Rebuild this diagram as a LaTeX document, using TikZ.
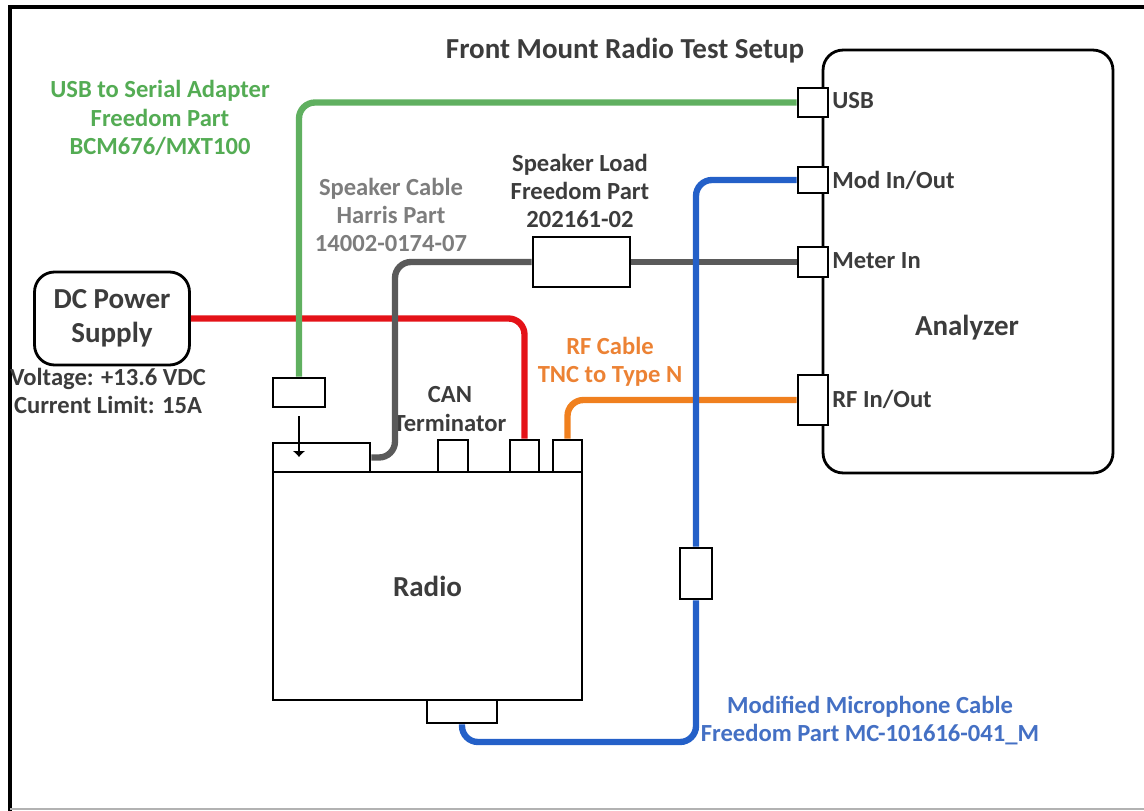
\documentclass[tikz,border=0pt]{standalone}
\usepackage{fontspec}
\setmainfont{Carlito}
\usetikzlibrary{arrows.meta,positioning}
\definecolor{TextGray}{RGB}{60,60,60}
\definecolor{UsbGreen}{RGB}{96,176,96}
\definecolor{UsbText}{RGB}{84,172,84}
\definecolor{PowerRed}{RGB}{228,18,24}
\definecolor{SpkGray}{RGB}{90,90,90}
\definecolor{SpkText}{RGB}{125,125,125}
\definecolor{RfOrange}{RGB}{240,128,30}
\definecolor{RfText}{RGB}{236,130,52}
\definecolor{MicBlue}{RGB}{36,96,200}
\definecolor{MicText}{RGB}{68,112,196}
\tikzset{
  box/.style={draw=black,line width=1.6pt,fill=white,inner sep=0pt,
    font=\bfseries\fontsize{16.5}{19.5}\selectfont,text=TextGray,align=center},
  port/.style={box,minimum width=0.6cm},
  cable/.style={line width=3.6pt,rounded corners=0.32cm},
  lbl/.style={font=\bfseries\fontsize{14}{16}\selectfont,align=center,
    text=TextGray,inner sep=0pt},
}
\begin{document}
\begin{tikzpicture}[x=0.02cm,y=-0.02cm,>=Latex]
  \useasboundingbox (0,0) rectangle (1144,811);
  % frame
  \draw[line width=2.4pt] (10,811) -- (10,7) -- (1144,7);
  \draw[gray!60,line width=0.6pt] (10,809) -- (1144,809);
  \node[lbl,font=\bfseries\fontsize{16.5}{19}\selectfont] (title) at (625,51) {Front Mount Radio Test Setup};

  % analyzer
  \node[box,rounded corners=0.4cm,minimum width=5.8cm,minimum height=8.46cm] (anz) at (968,261.5) {};
  \node[lbl,font=\bfseries\fontsize{16.5}{19}\selectfont] (anzname) at (967,328) {Analyzer};
  \node[port,minimum height=0.58cm] (usbport) at (813,102.5) {};
  \node[port,minimum height=0.52cm] (modport) at (813,180) {};
  \node[port,minimum height=0.6cm] (meterport) at (813,262) {};
  \node[port,minimum height=1.0cm] (rfport) at (813,400) {};
  \node[lbl,anchor=west] (usblbl) at (832,101) {USB};
  \node[lbl,anchor=west] (modlbl) at (832,180) {Mod In/Out};
  \node[lbl,anchor=west] (meterlbl) at (832,261) {Meter In};
  \node[lbl,anchor=west] (rflbl) at (832,399) {RF In/Out};

  % power supply
  \node[box,rounded corners=0.4cm,minimum width=3.1cm,minimum height=1.86cm] (psu) at (112,318.5) {DC Power\\Supply};
  \node[lbl] (psuspec) at (108,391) {Voltage: +13.6 VDC\\Current Limit: 15A};

  % radio
  \node[box,minimum width=6.18cm,minimum height=4.56cm] (radio) at (427.5,586) {Radio};
  \node[box,minimum width=1.94cm,minimum height=0.58cm] (radiotop) at (321.5,457.5) {};
  \node[port,minimum height=0.64cm] (canport) at (453,456) {};
  \node[port,minimum width=0.58cm,minimum height=0.64cm] (dcport) at (524.5,456) {};
  \node[port,minimum width=0.58cm,minimum height=0.64cm] (rfout) at (567.5,456) {};
  \node[box,minimum width=1.4cm,minimum height=0.46cm] (micport) at (462,711.5) {};
  \node[lbl] (canlbl) at (450,409) {CAN\\Terminator};

  % in-line parts
  \node[box,minimum width=1.04cm,minimum height=0.58cm] (usbadapter) at (299,392.5) {};
  \node[box,minimum width=1.94cm,minimum height=1.0cm] (spkload) at (581.5,262) {};
  \node[box,minimum width=0.64cm,minimum height=1.02cm] (micbox) at (696,573.5) {};
  \coordinate (spkbend) at (395,262);
  \coordinate (micbend) at (462,742);
  \coordinate (usbtip) at (299,457);

  % cables
  \draw[cable,PowerRed] (psu.east) -| (dcport.north);
  \draw[cable,UsbGreen] (usbport.west) -| (usbadapter.north);
  \draw[cable,SpkGray] (radiotop.east) -| (spkbend) -- (spkload.west);
  \draw[cable,SpkGray] (spkload.east) -- (meterport.west);
  \draw[cable,RfOrange] (rfout.north) |- (rfport.west);
  \draw[cable,MicBlue] (modport.west) -| (micbox.north);
  \draw[cable,MicBlue] (micbox.south) |- (micbend) -- (micport.south);
  \draw[-{Latex[width=0.26cm,length=0.12cm]},line width=0.7pt,shorten <=0.16cm] (usbadapter.south) -- (usbtip);

  % cable labels
  \node[lbl,text=UsbText] (usblabel) at (160,118) {USB to Serial Adapter\\Freedom Part\\BCM676/MXT100};
  \node[lbl,text=SpkText] (spklabel) at (391,215) {Speaker Cable\\Harris Part\\14002-0174-07};
  \node[lbl] (loadlabel) at (580,191) {Speaker Load\\Freedom Part\\202161-02};
  \node[lbl,text=RfText] (rflabel) at (610,362) {RF Cable\\TNC to Type N};
  \node[lbl,text=MicText] (miclabel) at (870,721) {Modified Microphone Cable\\Freedom Part MC-101616-041\_M};
\end{tikzpicture}
\end{document}
